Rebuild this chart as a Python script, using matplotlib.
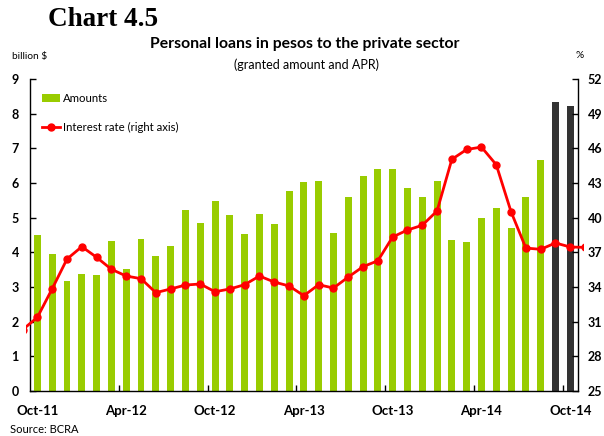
import matplotlib
matplotlib.use("Agg")
import matplotlib.pyplot as plt
import numpy as np
from matplotlib.patches import Patch
from matplotlib.lines import Line2D

# ---- data ----
months = ["Oct-11", "Nov-11", "Dec-11", "Jan-12", "Feb-12", "Mar-12", "Apr-12", "May-12", "Jun-12",
          "Jul-12", "Aug-12", "Sep-12", "Oct-12", "Nov-12", "Dec-12", "Jan-13", "Feb-13", "Mar-13",
          "Apr-13", "May-13", "Jun-13", "Jul-13", "Aug-13", "Sep-13", "Oct-13", "Nov-13", "Dec-13",
          "Jan-14", "Feb-14", "Mar-14", "Apr-14", "May-14", "Jun-14", "Jul-14", "Aug-14", "Sep-14",
          "Oct-14"]
amounts = [4.50, 3.95, 3.17, 3.37, 3.35, 4.33, 3.52, 4.38, 3.89, 4.18,
           5.22, 4.85, 5.48, 5.08, 4.53, 5.11, 4.82, 5.77, 6.03, 6.06,
           4.56, 5.60, 6.20, 6.40, 6.40, 5.86, 5.60, 6.06, 4.36, 4.30,
           4.99, 5.28, 4.70, 5.60, 6.66, 8.34, 8.23]
highlight_months = ["Sep-14", "Oct-14"]
# interest rate, Sep-11 .. Nov-14 (the ends are clipped at the frame)
rate_months = ["Sep-11"] + months + ["Nov-14"]
rates = [30.3,
         31.38, 33.85, 36.42, 37.49, 36.57, 35.53, 34.95, 34.72, 33.51, 33.83,
         34.17, 34.26, 33.59, 33.83, 34.20, 34.95, 34.43, 34.09, 33.25, 34.20,
         33.91, 34.86, 35.76, 36.27, 38.33, 38.93, 39.34, 40.58, 45.05, 45.90,
         46.11, 44.58, 40.51, 37.37, 37.26, 37.81, 37.46,
         37.43]
xtick_labels = ["Oct-11", "Apr-12", "Oct-12", "Apr-13", "Oct-13", "Apr-14", "Oct-14"]
left_ticks = list(range(0, 10))
right_ticks = list(range(25, 53, 3))

GREEN = "#99CC00"
DARK = "#333333"
RED = "#FF0000"
FONT = "Lato"

W, H = 604, 436
fig = plt.figure(figsize=(W / 100, H / 100), dpi=100)

px_left, px_right = 26.3, 583.0
px_top, px_bot = 79.0, 391.0
ax = fig.add_axes([px_left / W, (H - px_bot) / H, (px_right - px_left) / W, (px_bot - px_top) / H])

x = np.arange(len(months))
colors = [DARK if m in highlight_months else GREEN for m in months]
ax.bar(x, amounts, width=0.47, color=colors, zorder=2)

ax.set_xlim(-0.75, len(months) - 0.14)
ax.set_ylim(0, 9)
for s in ["top", "right"]:
    ax.spines[s].set_visible(False)
ax.spines["left"].set_position(("data", -0.5))
ax.spines["bottom"].set_bounds(-0.5, len(months) - 0.5)
for s in ["left", "bottom"]:
    ax.spines[s].set_linewidth(1.0)

ax.set_yticks(left_ticks)
ax.set_yticklabels([str(t) for t in left_ticks], fontfamily=FONT, fontweight="bold", fontsize=9)
ax.tick_params(axis="y", direction="in", length=4, width=1, pad=8)

label_pos = [months.index(m) for m in xtick_labels]
ax.set_xticks([p - 0.5 for p in label_pos[1:]])
ax.set_xticklabels([])
ax.tick_params(axis="x", which="major", direction="in", length=4, width=1)
ax.set_xticks(label_pos, minor=True)
ax.set_xticklabels(xtick_labels, minor=True, fontfamily=FONT, fontweight="bold", fontsize=9.5)
ax.tick_params(axis="x", which="minor", length=0, pad=10)

ax2 = ax.twinx()
ax2.set_ylim(25, 52)
rx = np.arange(-1, len(months) + 1)
ax2.plot(rx, rates, color=RED, lw=2, marker="o", ms=5, zorder=3)
for s in ["top", "left", "bottom"]:
    ax2.spines[s].set_visible(False)
ax2.spines["right"].set_position(("data", len(months) - 0.5))
ax2.spines["right"].set_linewidth(1.0)
ax2.set_yticks(right_ticks)
ax2.set_yticklabels([str(t) for t in right_ticks], fontfamily=FONT, fontweight="bold", fontsize=9)
ax2.tick_params(axis="y", direction="in", length=4, width=1, pad=7)

handles = [Patch(facecolor=GREEN, edgecolor="none"),
           Line2D([0], [0], color=RED, lw=2, marker="o", ms=5)]
leg = ax2.legend(handles, ["Amounts", "Interest rate (right axis)"],
                 loc="upper left", bbox_to_anchor=(42 / W, 1 - 93 / H), bbox_transform=fig.transFigure,
                 frameon=False, prop={"family": FONT, "size": 8.2},
                 handlelength=1.55, handleheight=0.8, handletextpad=0.3, labelspacing=1.55,
                 borderpad=0, borderaxespad=0)

fig.text(48 / W, 1 - 20 / H, "Chart 4.5", fontfamily="Liberation Serif", fontweight="bold",
         fontsize=19.5, va="center", ha="left")
fig.text(305 / W, 1 - 44 / H, "Personal loans in pesos to the private sector", fontfamily=FONT,
         fontweight="bold", fontsize=11.3, ha="center", va="center")
fig.text(306 / W, 1 - 65 / H, "(granted amount and APR)", fontfamily=FONT, fontsize=9,
         ha="center", va="center")
fig.text(12 / W, 1 - 56 / H, "billion $", fontfamily=FONT, fontsize=7.3, ha="left", va="center")
fig.text(580 / W, 1 - 56 / H, "%", fontfamily=FONT, fontsize=7.3, ha="center", va="center")
fig.text(10 / W, 1 - 429 / H, "Source: BCRA", fontfamily=FONT, fontsize=8, ha="left", va="center")

fig.savefig("out.png", dpi=100)
